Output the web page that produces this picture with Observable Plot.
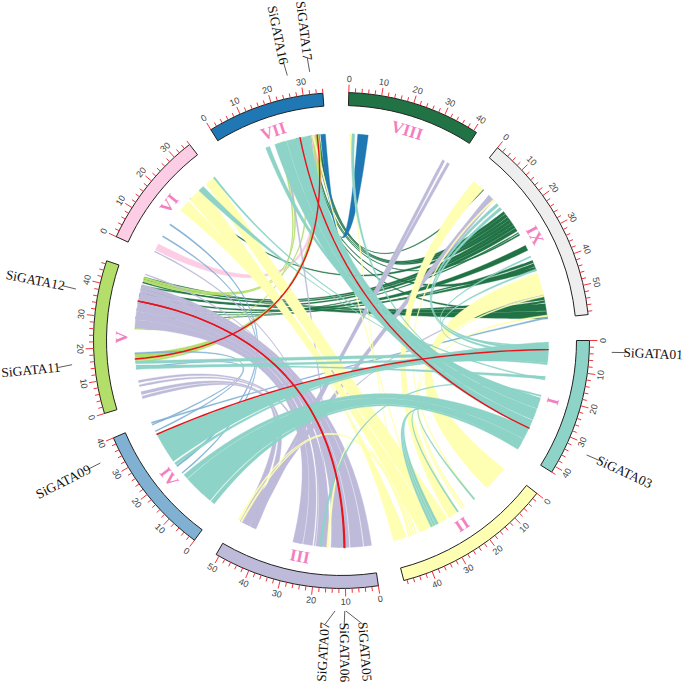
<!DOCTYPE html>
<html>
<head>
<meta charset="utf-8">
<script src="https://cdn.jsdelivr.net/npm/d3@7"></script>
<script src="https://cdn.jsdelivr.net/npm/@observablehq/plot@0.6"></script>
<style>html,body{margin:0;padding:0;background:#fff}svg{display:block}</style>
</head>
<body>
<div id="chart"></div>
<script>
// chromosomes
const chrNames = ["I","II","III","IV","V","VI","VII","VIII","IX"];
const chrLengths = [42,49,51,40,47,36,36,41,59];
const chrColors = ["#8dd3c7","#ffffb3","#bebada","#80b1d3","#b3de69","#fccde5","#1f78b4","#217346","#eeeeee"];

// genes: name, chromosome, position (Mb), position the label sits at (Mb)
const geneNames = ["SiGATA01","SiGATA03","SiGATA05","SiGATA06","SiGATA07","SiGATA09","SiGATA11","SiGATA12","SiGATA16","SiGATA17"];
const geneChrs = ["I","I","III","III","III","IV","V","V","VII","VII"];
const genePos = [3.3,32.8,10,10.3,13,35,15.7,36.8,26.5,32.8];
const geneLabelPos = [3.2,32.7,5.6,10.5,15.6,35,15.3,37,26.2,32.6];

// syntenic links: [chrA, startA, endA, chrB, startB, endB]
const greenLinks = [
  ["IX",5.3,5.8,"VII",33,33.4],["IX",16.4,17.4,"VII",33.2,33.6],["IX",17.5,18.8,"VII",32,32.4],["IX",18.9,20,"VII",30.4,30.8],
  ["IX",20,21.2,"VI",24,24.4],["IX",21.2,22.4,"V",45,45.4],["IX",22.4,23.6,"V",43.6,44],["IX",23.7,25,"V",41,41.4],
  ["IX",25.6,26,"V",36,36.4],["IX",26.3,26.8,"VII",29.5,29.9],["IX",31,33,"V",38.5,39],
  ["IX",37,38,"V",33.5,34],["IX",38.2,39.4,"VII",26,26.4],["IX",39.6,41,"V",30.5,31],
  ["IX",50.6,52,"V",45.4,45.8],["IX",52.2,53,"VII",25,25.4],["IX",53.4,56,"V",42,42.6],["IX",56.2,59,"V",39,39.8]
];
const blueLinks = [["VII",34,35.8,"VIII",3.7,7.5]];
const pinkLinks = [["VI",1.5,4,"VII",30.5,33]];
const limeLinks = [
  ["V",45,45.8,"VII",19,19.6],["V",44,44.8,"VII",25.5,26.2],["V",26.5,27,"VII",18,18.5],
  ["V",15,17.5,"VII",32,33.5],["V",14.2,14.8,"VII",31,31.6]
];
const steelLinks = [
  ["IV",39.3,39.8,"IX",58.3,58.8],["IV",21,21.6,"VI",12,12.5],["IV",18,18.4,"VI",7,7.4],["IV",36,36.4,"V",17.5,18],["IV",38.6,39,"V",12,12.4]
];
const lavenderLinks = [
  ["V",27,30,"III",25.5,29],["V",30,33,"III",21.8,25.2],["V",33,36,"III",16.2,20.5],["V",36,40,"III",8.4,15],["V",40,41.5,"III",3.4,8],["V",41.5,43,"III",0.3,3],
  ["V",1,2,"III",47,49.6],["V",2.5,3.6,"III",43.2,45.8],["V",5.5,6.2,"III",26,27],["V",7,7.8,"III",27.5,28.5],
  ["V",46.6,47,"III",20.8,21.2],["VI",0.7,1.1,"III",16.4,16.8],
  ["VIII",36,37,"III",44,45],["VIII",38,39,"III",46,47],["IX",8.3,11,"III",47,49.5],["VII",20,20.6,"III",12,12.5],["IX",50,50.5,"III",46,46.4]
];
const yellowLinks = [
  ["II",0.3,9.7,"IX",42,50],["II",23,27.2,"IX",1,5.5],["II",27.7,33,"VI",32,35.8],["II",33.3,39,"VI",23.8,30],["II",44,49,"VI",18.6,23],
  ["II",15.4,16,"IX",10.6,11.2],["II",40,40.6,"III",50,50.6],["II",41,41.6,"III",48.8,49.4],["II",42,42.6,"III",15.8,16.6],
  ["II",20,20.6,"IX",57.6,58.2],["II",43,43.5,"VIII",0.6,1.2],["II",21,21.5,"IX",50.4,50.9],["II",36,36.5,"VII",31,31.5]
];
const tealLinks = [
  ["I",0.5,8.2,"IV",23.5,35],["I",8.2,8.8,"IV",21.8,22.8],["I",6,7,"V",12,13],["I",4,5,"V",14,15],["I",13,14,"V",12.8,13.5],
  ["I",21,22,"VII",13.5,15],["I",22,25,"VII",26.5,30.2],["I",25.2,29.5,"VII",21.6,26.4],["I",29.7,33,"VII",17,21.5],
  ["I",33,37.2,"IV",15.5,17.3],["I",37.3,40.5,"IV",4,15.3],["I",40.6,41.5,"IV",2,3.6],
  ["I",39.8,40.2,"II",33.7,34.5],["I",40.3,40.6,"II",32.7,33.5],["I",40.6,41,"II",31.5,32.5],["I",39.3,39.6,"II",23,23.5],["I",38.8,39.1,"II",15.5,16],
  ["I",20,20.6,"III",18.4,19.2],["I",21.5,22.6,"VI",28.4,30.6],["I",14,14.4,"VI",35.4,36],["I",24.6,25,"VIII",1.6,2.6],
  ["I",3,4,"IX",14.4,15.4],["I",5,6,"IX",12.6,13.6],["I",2,2.5,"IX",35.3,35.8],["I",7,7.4,"IX",40.4,41]
];
const redLinks = [
  ["I",3.3,"IV",35],["I",32.8,"VII",26.5],["V",15.7,"VII",32.8],["V",36.8,"III",10],["V",36.8,"III",10.3]
];

// geometry (pixels in the data space of the x and y scales)
const rOuter = 248, rInner = 235, rLink = 207;
const gapDeg = 6, startDeg = 90;
const degPerMb = (360 - gapDeg * chrNames.length) / d3.sum(chrLengths);
const chrStart = new Map();
{
  let a = startDeg;
  chrNames.forEach((n, i) => { chrStart.set(n, a); a += chrLengths[i] * degPerMb + gapDeg; });
}
const theta = (chr, pos) => chrStart.get(chr) + pos * degPerMb;
const polar = (deg, r) => {
  const t = deg * Math.PI / 180;
  return {x: r * Math.sin(t), y: -r * Math.cos(t)};
};
const arcPts = (a0, a1, r) => d3.range(0, 13).map(i => polar(a0 + (a1 - a0) * i / 12, r));
// Edge between two link ends: curved through the centre, but straightening out
// when the two ends lie almost opposite each other, so such ribbons keep their width.
const bez = (p, q) => {
  const mx = (p.x + q.x) / 2, my = (p.y + q.y) / 2;
  const off = Math.hypot(mx, my) / rLink;
  const w = off < 0.1 ? 1 : off > 0.3 ? 0 : (0.3 - off) / 0.2;
  const cx = mx * w, cy = my * w;
  return d3.range(1, 40).map(i => {
    const t = i / 40, u = 1 - t;
    return {x: u * u * p.x + 2 * u * t * cx + t * t * q.x, y: u * u * p.y + 2 * u * t * cy + t * t * q.y};
  });
};

function ribbons(list) {
  const out = [];
  list.forEach((l, id) => {
    const [ca, a0, a1, cb, b0, b1] = l;
    const A = arcPts(theta(ca, a0), theta(ca, a1), rLink);
    const B = arcPts(theta(cb, b0), theta(cb, b1), rLink);
    const ring = [...A, ...bez(A[A.length - 1], B[0]), ...B, ...bez(B[B.length - 1], A[0])];
    ring.forEach(p => out.push({...p, id}));
  });
  return out;
}
const ribbonMark = (list, color) => Plot.line(ribbons(list), {
  x: "x", y: "y", z: "id", fill: color, stroke: color, strokeWidth: 0.4, curve: "linear"
});

const redPts = [];
redLinks.forEach(([ca, a, cb, b], id) => {
  const p = polar(theta(ca, a), rLink), q = polar(theta(cb, b), rLink);
  [p, ...bez(p, q), q].forEach(pt => redPts.push({...pt, id}));
});

// ideograms
const ideoPts = [];
chrNames.forEach((n, i) => {
  const a0 = chrStart.get(n), a1 = a0 + chrLengths[i] * degPerMb;
  const ring = [...arcPts(a0, a1, rOuter), ...arcPts(a1, a0, rInner)];
  [...ring, ring[0]].forEach(p => ideoPts.push({...p, id: n}));
});
const ideoMarks = chrNames.map((n, i) => Plot.line(ideoPts.filter(d => d.id === n), {
  x: "x", y: "y", fill: chrColors[i], stroke: "#222", strokeWidth: 1, curve: "linear"
}));

// ticks & tick labels
const uprightRot = deg => { let r = ((deg + 180) % 360 + 360) % 360 - 180; if (r > 90) r -= 180; if (r < -90) r += 180; return r; };
const ticks = [], tickLabels = [];
chrNames.forEach((n, i) => {
  for (let p = 0; p <= chrLengths[i]; p += 2) {
    const deg = theta(n, p), major = p % 10 === 0;
    const s = polar(deg, rOuter), e = polar(deg, rOuter + (major ? 8 : 4.5));
    ticks.push({x1: s.x, y1: s.y, x2: e.x, y2: e.y});
    if (major) tickLabels.push({...polar(deg, rOuter + 13.5), text: String(p), rot: uprightRot(deg)});
  }
});

const romanLabels = chrNames.map((n, i) => {
  const deg = theta(n, chrLengths[i] / 2);
  return {...polar(deg, 220), text: n, rot: uprightRot(deg)};
});

// gene labels
const leaders = [], geneLabels = [];
geneNames.forEach((g, i) => {
  const d0 = theta(geneChrs[i], genePos[i]), d1 = theta(geneChrs[i], geneLabelPos[i]);
  const s = polar(d0, 270.5), e = polar(d1, 284.5);
  leaders.push({x1: s.x, y1: s.y, x2: e.x, y2: e.y});
  const c = polar(d1, 312);
  const rot = ((d1 % 360) < 180) ? d1 - 90 : d1 - 270;
  geneLabels.push({...c, text: g, rot});
});

const plot = Plot.plot({
  width: 685, height: 688,
  margin: 0,
  x: {domain: [-341, 344], range: [0, 685], axis: null},
  y: {domain: [-340, 348], range: [0, 688], axis: null},
  style: {background: "#fff"},
  marks: [
    ribbonMark(greenLinks, chrColors[7]),
    ribbonMark(blueLinks, chrColors[6]),
    ribbonMark(pinkLinks, chrColors[5]),
    ribbonMark(limeLinks, chrColors[4]),
    ribbonMark(steelLinks, chrColors[3]),
    ribbonMark(lavenderLinks, chrColors[2]),
    ribbonMark(yellowLinks, chrColors[1]),
    ribbonMark(tealLinks, chrColors[0]),
    Plot.line(redPts, {x: "x", y: "y", z: "id", stroke: "#e8141c", strokeWidth: 1.4, curve: "linear"}),
    ...ideoMarks,
    Plot.link(ticks, {x1: "x1", y1: "y1", x2: "x2", y2: "y2", stroke: "#f0353b", strokeWidth: 1}),
    Plot.text(tickLabels, {x: "x", y: "y", text: "text", rotate: "rot", fontSize: 9, fill: "#444", fontFamily: "Liberation Sans"}),
    Plot.text(romanLabels, {x: "x", y: "y", text: "text", rotate: "rot", fontSize: 17, fontWeight: "bold", fill: "#f47fc0", fontFamily: "Liberation Serif"}),
    Plot.link(leaders, {x1: "x1", y1: "y1", x2: "x2", y2: "y2", stroke: "#333", strokeWidth: 0.8}),
    Plot.text(geneLabels, {x: "x", y: "y", text: "text", rotate: "rot", fontSize: 13.5, fill: "#111", fontFamily: "Liberation Serif"})
  ]
});
document.getElementById("chart").appendChild(plot);
</script>
</body>
</html>
